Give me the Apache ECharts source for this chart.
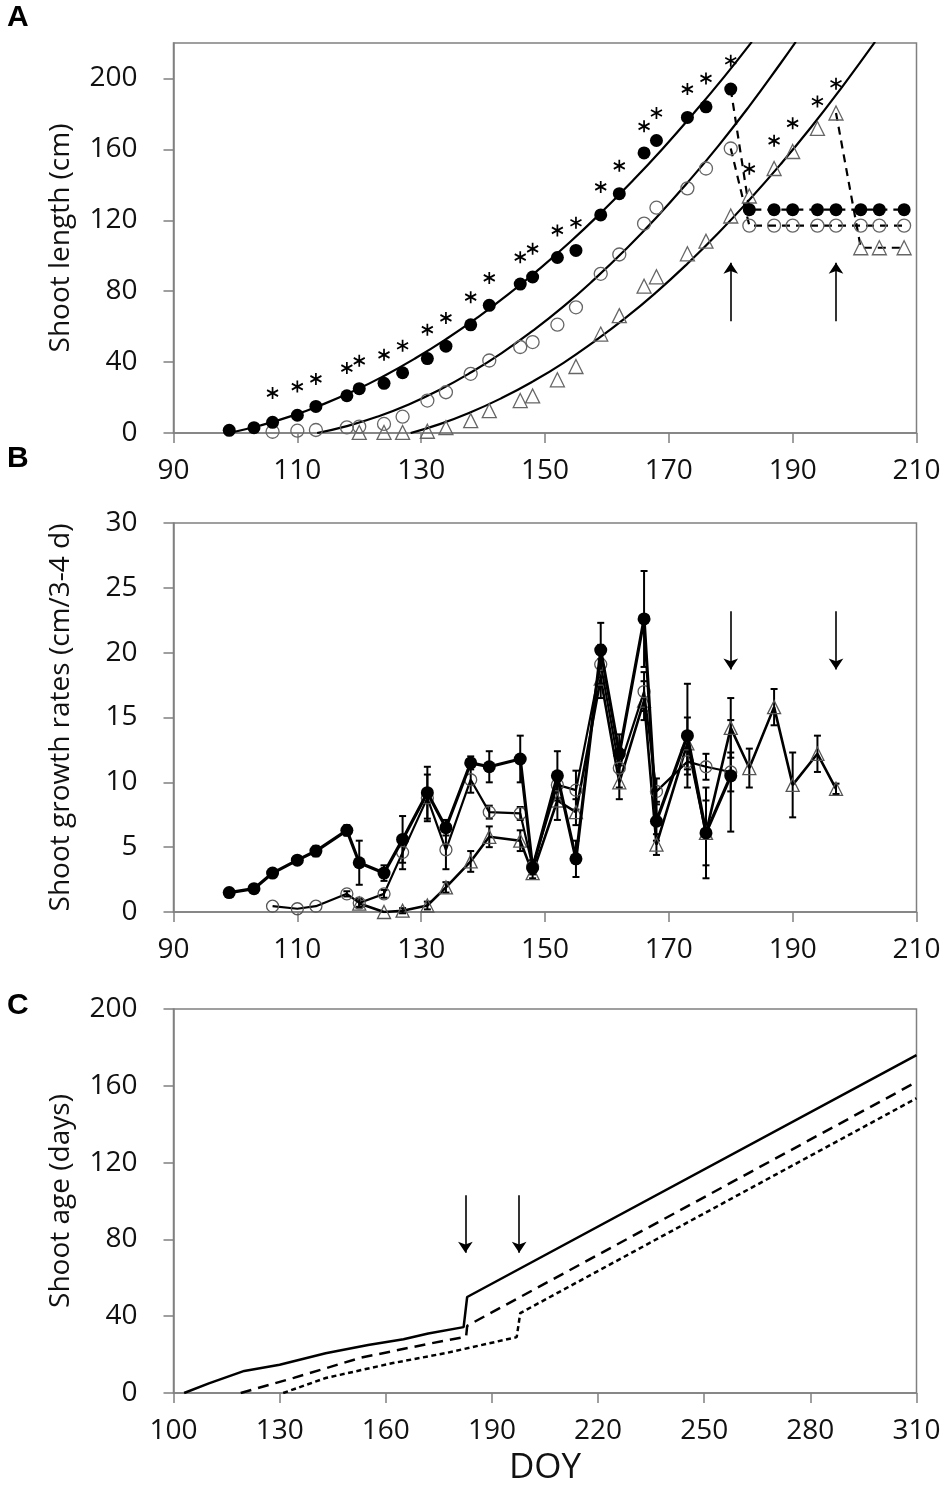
<!DOCTYPE html>
<html>
<head>
<meta charset="utf-8">
<script src="https://cdn.jsdelivr.net/npm/echarts@6/dist/echarts.min.js"></script>
<style>
html,body{margin:0;padding:0;background:#fff;}
#chart{width:950px;height:1487px;}
</style>
</head>
<body>
<div id="chart"></div>
<script>
// ---------- Panel A: shoot length ----------
const doyA = [99,103,106,110,113,118,120,124,127,131,134,138,141,146,148,152,155,159,162,166,168,173,176,180,183,187,190,194,197,201,204,208];
const lenFilled = [1.5,3,6,10,15,21,25,28,34,42,49,61,72,84,88,99,103,123,135,158,165,178,184,194,126,126,126,126,126,126,126,126];
const lenOpen = [null,null,0.7,1.3,1.7,3.2,3.6,5.1,9.2,18.3,23,33.4,40.9,48.5,51.3,61.1,70.9,89.8,100.7,118.1,127.1,138,149.2,160.5,117,117,117,117,117,117,117,117];
const lenTri = [null,null,null,null,null,null,0.3,0.3,0.3,1,3,7,12.6,18.3,20.9,30,37.5,55.8,66.2,82.8,88.1,101.1,108.2,122.4,133.7,149.2,158.8,171.8,180.5,104.5,104.5,104.5];
const sigDoy = [106,110,113,118,120,124,127,131,134,138,141,146,148,152,155,159,162,166,168,173,176,180,183,187,190,194,197];
const sigVal = [22.5,26.2,30.5,36.6,40.7,44.1,49.2,58.3,64.9,76.6,87.5,99.2,103.9,114.3,118.6,138.8,150.7,173,180.5,194,200,210,149,164.8,174.7,187,197];
// fitted curves
const fitFilledDoy = [99,104,109,114,119,124,129,134,139,144,149,154,159,164,169,174,179,183.4];
const fitFilledLen = [0,4.2,9.5,16,23.5,32.2,42,52.9,64.9,78,92.3,107.6,124.1,141.7,160.4,180.3,201.2,220.6];
const fitOpenDoy = [113.2,118,123,128,133,138,143,148,153,158,163,168,173,178,183,188,190.5];
const fitOpenLen = [0,3.9,9.3,16.1,24.4,34.1,45.1,57.6,71.4,86.8,103.5,121.6,141.2,162,184.4,208.3,220.6];
const fitTriDoy = [128.3,133,138,143,148,153,158,163,168,173,178,183,188,193,198,203.3];
const fitTriLen = [0,5,11.7,19.7,29,39.6,51.7,64.9,79.5,95.5,112.8,131.5,151.4,172.6,195.3,220.6];
const arrowDoyA = [180,197];
const arrowFromA = 63, arrowToA = 96;

// ---------- Panel B: growth rates ----------
const doyBFilled = [99,103,106,110,113,118,120,124,127,131,134,138,141,146,148,152,155,159,162,166,168,173,176,180];
const rateFilled = [1.5,1.8,3.0,4.0,4.7,6.3,3.8,3.0,5.6,9.2,6.5,11.5,11.2,11.8,3.4,10.5,4.1,20.2,12.2,22.6,7.0,13.6,6.1,10.5];
const errFilled  = [0,0,0,0,0.4,0.4,1.7,0.6,1.8,2.0,0.6,0.5,1.2,1.8,0.5,1.9,1.4,2.1,1.5,3.7,1.5,4.0,3.5,4.3];
const doyBOpen = [106,110,113,118,120,124,127,131,134,138,141,146,148,152,155,159,162,166,168,173,176,180];
const rateOpen = [0.45,0.25,0.45,1.4,0.7,1.4,4.6,8.8,4.8,10.2,7.7,7.6,3.5,9.8,9.4,19.1,11.1,17.0,9.3,11.6,11.2,10.8];
const errOpen  = [0,0,0,0.2,0.3,0.3,1.3,1.8,1.5,1.0,0.5,0.5,0.5,1.0,1.5,1.5,1.5,1.5,1.0,1.0,1.0,1.5];
const doyBTri = [120,124,127,131,134,138,141,146,148,152,155,159,162,166,168,173,176,180,183,187,190,194,197];
const rateTri = [0.65,0,0.1,0.5,1.9,3.9,5.8,5.5,3.0,8.6,7.7,18.0,10.0,16.3,5.2,13.0,6.1,14.2,11.1,15.8,9.8,12.2,9.5];
const errTri  = [0.3,0,0.2,0.3,0.4,0.8,0.8,0.8,0.4,1.5,1.0,1.5,1.3,1.5,0.8,2.0,2.5,2.3,1.5,1.4,2.5,1.4,0.4];
const arrowDoyB = [180,197];
const arrowFromB = 23.2, arrowToB = 18.7;

// ---------- Panel C: shoot age ----------
const doyCSolid = [103,110,120,130,143,155,165,172,182,183,310];
const ageSolid  = [0,5,11.5,14.7,20.7,25,28,31,34.3,50,176];
const doyCDash  = [119,134,153,172,182.7,183,310];
const ageDash   = [0,7.9,18.4,25.6,29.3,35,162];
const doyCDot   = [131,143,162,177,197,198,310];
const ageDot    = [0,7.8,15.6,20.8,29.1,41.6,153.5];
const arrowDoyC = [182.5,197.7];
const arrowFromC = 103, arrowToC = 73;

// ---------- helpers ----------
const zip = (xs, ys) => xs.map((x,i)=>[x, ys[i]]).filter(p => p[1] !== null && p[1] !== undefined);
const errData = (xs, ys, es) => xs.map((x,i)=>[x, ys[i]-es[i], ys[i]+es[i]]).filter(d => d[2]-d[1] > 0.05);
const arrows = (xs, from, to) => xs.map(x => [{coord:[x, from]}, {coord:[x, to]}]);

const FONT = 'Open Sans';
const AX = '#808080';
function xAxisCfg(gi, min, max, interval, extra) {
  return Object.assign({
    type:'value', gridIndex:gi, min, max, interval,
    axisLine:{show:true, onZero:false, lineStyle:{color:AX, width:1.5}},
    axisTick:{show:true, inside:false, length:10, lineStyle:{color:AX, width:1.5}},
    axisLabel:{fontFamily:FONT, fontSize:28, color:'#111', margin:24},
    splitLine:{show:false}
  }, extra||{});
}
function yAxisCfg(gi, min, max, interval, name, extra) {
  return Object.assign({
    type:'value', gridIndex:gi, min, max, interval,
    name, nameLocation:'middle', nameRotate:90, nameGap:98,
    nameTextStyle:{fontFamily:FONT, fontSize:28, color:'#111'},
    axisLine:{show:true, onZero:false, lineStyle:{color:AX, width:1.5}},
    axisTick:{show:true, inside:false, length:10, lineStyle:{color:AX, width:1.5}},
    axisLabel:{fontFamily:FONT, fontSize:28, color:'#111', margin:36},
    splitLine:{show:false}
  }, extra||{});
}
function errRender(params, api) {
  const x = api.value(0), lo = api.value(1), hi = api.value(2);
  const p1 = api.coord([x, hi]), p2 = api.coord([x, lo]);
  const cw = 3.5;
  const st = {stroke:'#000', lineWidth:2};
  return {type:'group', children:[
    {type:'line', shape:{x1:p1[0], y1:p1[1], x2:p2[0], y2:p2[1]}, style:st},
    {type:'line', shape:{x1:p1[0]-cw, y1:p1[1], x2:p1[0]+cw, y2:p1[1]}, style:st},
    {type:'line', shape:{x1:p2[0]-cw, y1:p2[1], x2:p2[0]+cw, y2:p2[1]}, style:st}
  ]};
}
const markArrows = (data) => ({
  silent:true, symbol:['none','arrow'], symbolSize:11,
  lineStyle:{color:'#000', width:1.6, type:'solid'},
  label:{show:false}, emphasis:{disabled:true}, data
});

const iA180 = doyA.indexOf(180), iA197 = doyA.indexOf(197);
const gridCommon = {left:173.5, width:743, show:true, borderColor:AX, borderWidth:1.5, containLabel:false};
const LETTER = 'bold 30px "Liberation Sans", Arial, sans-serif';

const option = {
  animation:false,
  backgroundColor:'#fff',
  grid:[
    Object.assign({top:43, height:390}, gridCommon),
    Object.assign({top:523, height:389}, gridCommon),
    Object.assign({top:1009, height:384}, gridCommon)
  ],
  xAxis:[
    xAxisCfg(0, 90, 210, 20),
    xAxisCfg(1, 90, 210, 20),
    xAxisCfg(2, 100, 310, 30, {name:'DOY', nameLocation:'middle', nameGap:58,
      nameTextStyle:{fontFamily:FONT, fontSize:35, color:'#111'}})
  ],
  yAxis:[
    yAxisCfg(0, 0, 220, 40, 'Shoot length (cm)', {axisLabel:{fontFamily:FONT, fontSize:28, color:'#111', margin:36, showMaxLabel:false}}),
    yAxisCfg(1, 0, 30, 5, 'Shoot growth rates (cm/3-4 d)'),
    yAxisCfg(2, 0, 200, 40, 'Shoot age (days)')
  ],
  graphic:[
    {type:'text', left:7, top:3, style:{text:'A', font:LETTER, fill:'#000'}},
    {type:'text', left:7, top:444, style:{text:'B', font:LETTER, fill:'#000'}},
    {type:'text', left:7, top:991, style:{text:'C', font:LETTER, fill:'#000'}}
  ],
  series:[
    // ----- A -----
    {type:'line', xAxisIndex:0, yAxisIndex:0, data:zip(fitFilledDoy, fitFilledLen), smooth:true, symbol:'none', lineStyle:{color:'#000', width:2.2}, z:2},
    {type:'line', xAxisIndex:0, yAxisIndex:0, data:zip(fitOpenDoy, fitOpenLen), smooth:true, symbol:'none', lineStyle:{color:'#000', width:2.2}, z:2},
    {type:'line', xAxisIndex:0, yAxisIndex:0, data:zip(fitTriDoy, fitTriLen), smooth:true, symbol:'none', lineStyle:{color:'#000', width:2.2}, z:2},
    {type:'line', xAxisIndex:0, yAxisIndex:0, data:zip(doyA.slice(iA180), lenFilled.slice(iA180)), symbol:'none', lineStyle:{color:'#000', width:2.2, type:[8,6]}, z:2},
    {type:'line', xAxisIndex:0, yAxisIndex:0, data:zip(doyA.slice(iA180), lenOpen.slice(iA180)), symbol:'none', lineStyle:{color:'#000', width:2.2, type:[8,6]}, z:2},
    {type:'line', xAxisIndex:0, yAxisIndex:0, data:zip(doyA.slice(iA197), lenTri.slice(iA197)), symbol:'none', lineStyle:{color:'#000', width:2.2, type:[8,6]}, z:2},
    {type:'scatter', xAxisIndex:0, yAxisIndex:0, data:zip(doyA, lenTri), symbol:'triangle', symbolSize:14, itemStyle:{color:'transparent', borderColor:'#666', borderWidth:1.3, opacity:1}, z:3},
    {type:'scatter', xAxisIndex:0, yAxisIndex:0, data:zip(doyA, lenOpen), symbol:'circle', symbolSize:13, itemStyle:{color:'transparent', borderColor:'#666', borderWidth:1.3, opacity:1}, z:3},
    {type:'scatter', xAxisIndex:0, yAxisIndex:0, data:zip(doyA, lenFilled), symbol:'circle', symbolSize:13, itemStyle:{color:'#000', opacity:1}, z:4},
    {type:'scatter', xAxisIndex:0, yAxisIndex:0, data:zip(sigDoy, sigVal),
      symbol:'path://M0,-10L0,10M-8.66,-5L8.66,5M-8.66,5L8.66,-5', symbolSize:[11,12],
      itemStyle:{color:'none', borderColor:'#000', borderWidth:1.8, opacity:1}, z:4,
      markLine:markArrows(arrows(arrowDoyA, arrowFromA, arrowToA))},
    // ----- B -----
    {type:'custom', xAxisIndex:1, yAxisIndex:1, data:errData(doyBTri, rateTri, errTri), renderItem:errRender, encode:{x:0, y:[1,2]}, z:3},
    {type:'custom', xAxisIndex:1, yAxisIndex:1, data:errData(doyBOpen, rateOpen, errOpen), renderItem:errRender, encode:{x:0, y:[1,2]}, z:3},
    {type:'custom', xAxisIndex:1, yAxisIndex:1, data:errData(doyBFilled, rateFilled, errFilled), renderItem:errRender, encode:{x:0, y:[1,2]}, z:3},
    {type:'line', xAxisIndex:1, yAxisIndex:1, data:zip(doyBTri, rateTri), symbol:'triangle', symbolSize:13, showAllSymbol:true,
      lineStyle:{color:'#000', width:2.6}, itemStyle:{color:'transparent', borderColor:'#555', borderWidth:1.3}, z:4},
    {type:'line', xAxisIndex:1, yAxisIndex:1, data:zip(doyBOpen, rateOpen), symbol:'circle', symbolSize:12, showAllSymbol:true,
      lineStyle:{color:'#000', width:2.2}, itemStyle:{color:'transparent', borderColor:'#555', borderWidth:1.3}, z:5},
    {type:'line', xAxisIndex:1, yAxisIndex:1, data:zip(doyBFilled, rateFilled), symbol:'circle', symbolSize:13, showAllSymbol:true,
      lineStyle:{color:'#000', width:3.2}, itemStyle:{color:'#000'}, z:6,
      markLine:markArrows(arrows(arrowDoyB, arrowFromB, arrowToB))},
    // ----- C -----
    {type:'line', xAxisIndex:2, yAxisIndex:2, data:zip(doyCSolid, ageSolid), symbol:'none', lineStyle:{color:'#000', width:2.5},
      markLine:markArrows(arrows(arrowDoyC, arrowFromC, arrowToC))},
    {type:'line', xAxisIndex:2, yAxisIndex:2, data:zip(doyCDash, ageDash), symbol:'none', lineStyle:{color:'#000', width:2.5, type:[11,7]}},
    {type:'line', xAxisIndex:2, yAxisIndex:2, data:zip(doyCDot, ageDot), symbol:'none', lineStyle:{color:'#000', width:2.5, type:[5,3.5]}}
  ]
};
const chart = echarts.init(document.getElementById('chart'), null, {renderer:'canvas'});
chart.setOption(option);
</script>
</body>
</html>
